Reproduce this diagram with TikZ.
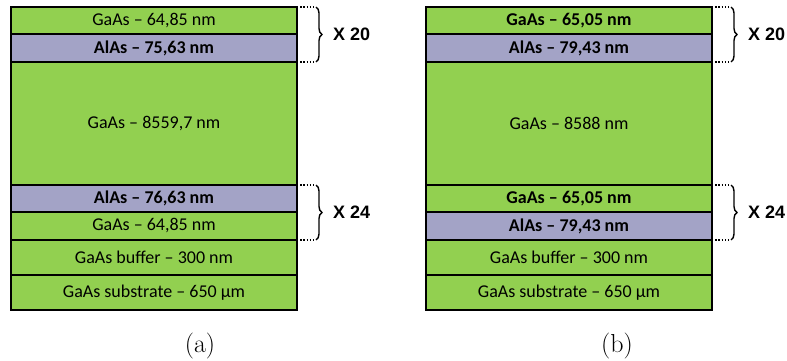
\documentclass[tikz,border=0pt]{standalone}
\usepackage{fontspec}
\newfontfamily\layerfont[Ligatures=TeX]{Carlito}
\newfontfamily\bracefont{Liberation Sans}
\usetikzlibrary{positioning, decorations.pathreplacing}
\definecolor{gaasgreen}{RGB}{146, 208, 80}
\definecolor{alaspurple}{RGB}{163, 163, 198}

\begin{document}
\begin{tikzpicture}[
    x=1pt, y=-1pt,
    layer/.style={
        draw=black, line width=1.2pt, outer sep=0pt, inner sep=0pt,
        minimum width=286pt, align=center,
        font=\layerfont\fontsize{18}{20}\selectfont
    },
    gaas/.style={layer, fill=gaasgreen},
    alas/.style={layer, fill=alaspurple},
    repbrace/.style={
        decorate, decoration={brace, amplitude=6pt}, line width=1.4pt
    },
    dotline/.style={dash pattern=on 1.4pt off 1.8pt, line width=1.4pt},
    replabel/.style={anchor=west, inner sep=0pt, font=\bracefont\fontsize{18}{20}\selectfont\bfseries},
    caption/.style={inner sep=0pt, font=\fontsize{26}{30}\selectfont}
]
\useasboundingbox (0,0) rectangle (787,361);

% STACK (a)
\node[gaas, minimum height=27pt, anchor=north west] (a1) at (11,7) {GaAs -- 64,85 nm};
\node[alas, minimum height=28pt, below=0pt of a1] (a2) {\bfseries AlAs -- 75,63 nm};
\node[gaas, minimum height=123pt, below=0pt of a2] (a3) {GaAs -- 8559,7 nm};
\node[alas, minimum height=27pt, below=0pt of a3] (a4) {\bfseries AlAs -- 76,63 nm};
\node[gaas, minimum height=28pt, below=0pt of a4] (a5) {GaAs -- 64,85 nm};
\node[gaas, minimum height=35pt, below=0pt of a5] (a6) {GaAs buffer -- 300 nm};
\node[gaas, minimum height=35pt, below=0pt of a6] (a7) {GaAs substrate -- 650 µm};

% STACK (b)
\node[gaas, minimum height=27pt, anchor=north west] (b1) at (426,7) {\bfseries GaAs -- 65,05 nm};
\node[alas, minimum height=28pt, below=0pt of b1] (b2) {\bfseries AlAs -- 79,43 nm};
\node[gaas, minimum height=123pt, below=0pt of b2] (b3) {GaAs -- 8588 nm};
\node[gaas, minimum height=27pt, below=0pt of b3] (b4) {\bfseries GaAs -- 65,05 nm};
\node[alas, minimum height=28pt, below=0pt of b4] (b5) {\bfseries AlAs -- 79,43 nm};
\node[gaas, minimum height=35pt, below=0pt of b5] (b6) {GaAs buffer -- 300 nm};
\node[gaas, minimum height=35pt, below=0pt of b6] (b7) {GaAs substrate -- 650 µm};

% Braces for the periods
\foreach \top/\bot/\n in {a1/a2/20, a4/a5/24, b1/b2/20, b4/b5/24} {
    \coordinate (\top-t) at ([xshift=19pt]\top.north east);
    \coordinate (\bot-b) at ([xshift=19pt]\bot.south east);
    \draw[dotline] (\top.north east) -- (\top-t);
    \draw[dotline] (\bot.south east) -- (\bot-b);
    \draw[repbrace] (\top-t) -- (\bot-b);
    \node[replabel] (\top-rep) at ([xshift=36pt]\top.south east) {X \n};
}

% Captions
\node[caption] (capa) at (200,346) {(a)};
\node[caption] (capb) at (617,346) {(b)};

\end{tikzpicture}
\end{document}
